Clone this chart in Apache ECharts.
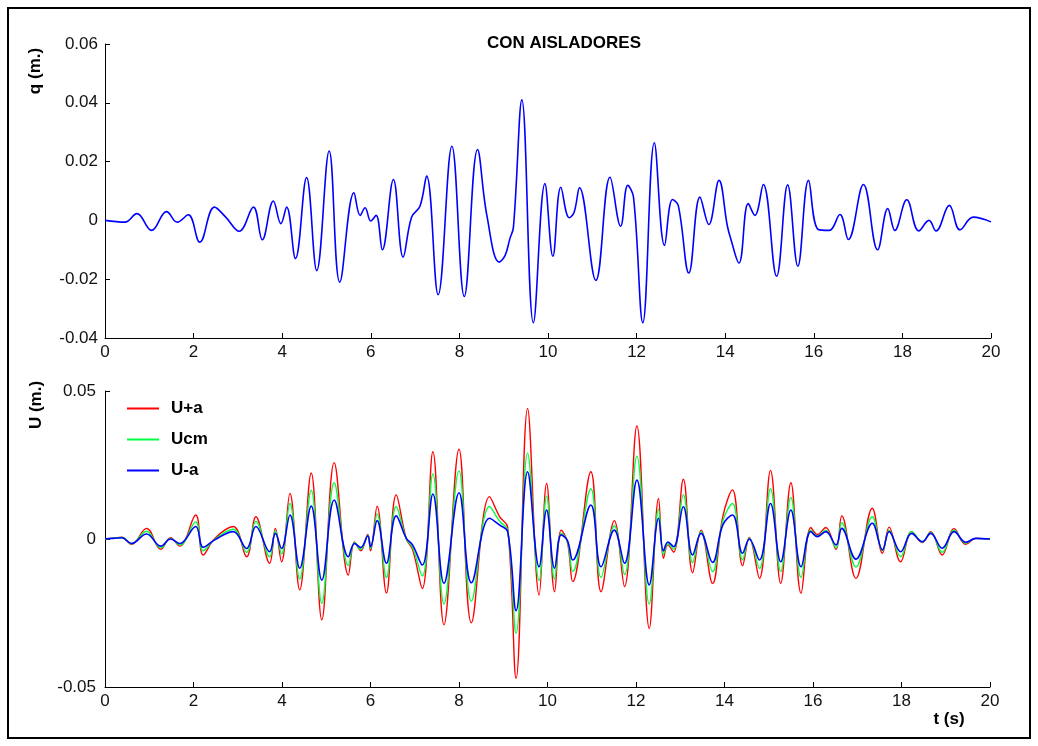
<!DOCTYPE html>
<html>
<head>
<meta charset="utf-8">
<script src="https://cdn.jsdelivr.net/npm/echarts@6/dist/echarts.min.js"></script>
<style>html,body{margin:0;padding:0;background:#fff;}#c{width:1038px;height:746px;}</style>
</head>
<body>
<div id="c"></div>
<script>
// ---- Top panel: q (m.) vs t (s) ----
const qTime = [0,0.45,0.72,1.05,1.39,1.63,1.88,2.14,2.47,2.72,3.03,3.35,3.55,3.80,3.97,4.10,4.30,4.55,4.78,5.06,5.30,5.62,5.76,5.87,6.00,6.12,6.26,6.51,6.73,6.92,7.11,7.26,7.52,7.83,8.11,8.41,8.62,8.90,9.03,9.14,9.22,9.41,9.67,9.93,10.11,10.29,10.48,10.59,10.71,11.08,11.40,11.64,11.80,11.93,12.14,12.40,12.63,12.81,12.94,13.18,13.43,13.63,13.86,14.05,14.12,14.31,14.52,14.67,14.86,15.16,15.41,15.64,15.88,16.10,16.35,16.59,16.78,17.12,17.44,17.67,17.83,18.10,18.37,18.60,18.76,19.06,19.30,19.60,20.0];
const qValue = [0,-0.0006,0.0023,-0.0034,0.0030,-0.0006,0.0019,-0.0074,0.0045,0.0012,-0.0037,0.0045,-0.0066,0.0066,-0.0011,0.0045,-0.0130,0.0146,-0.0171,0.0236,-0.0210,0.0094,0.0017,0.0043,-0.0002,0.0017,-0.0100,0.0139,-0.0125,0.0011,0.0048,0.0151,-0.0253,0.0252,-0.0259,0.0241,0.0017,-0.0142,-0.0120,-0.0062,-0.0023,0.0410,-0.0348,0.0125,-0.0122,0.0113,0.0009,0.0028,0.0111,-0.0204,0.0147,-0.0020,0.0119,0.0079,-0.0348,0.0264,-0.0085,0.0071,0.0051,-0.0179,0.0079,-0.0014,0.0136,-0.0020,-0.0060,-0.0145,0.0057,0.0017,0.0122,-0.0190,0.0121,-0.0156,0.0136,-0.0031,-0.0034,0.0020,-0.0065,0.0122,-0.0100,0.0040,-0.0034,0.0070,-0.0036,0.0000,-0.0036,0.0051,-0.0032,0.0011,-0.0005];

// ---- Bottom panel: U (m.) vs t (s) ----
const uTime   = [0,0.15,0.38,0.60,0.94,1.26,1.48,1.69,2.05,2.22,2.48,2.90,3.20,3.41,3.72,3.85,3.99,4.18,4.40,4.66,4.90,5.18,5.50,5.64,5.78,5.94,6.00,6.15,6.36,6.58,6.81,6.95,7.17,7.41,7.66,8.00,8.28,8.69,8.92,9.10,9.29,9.55,9.81,9.98,10.16,10.31,10.45,10.57,10.98,11.21,11.51,11.74,12.02,12.30,12.51,12.62,12.72,12.85,13.07,13.28,13.47,13.73,13.96,14.18,14.41,14.56,14.79,15.04,15.27,15.50,15.73,15.95,16.10,16.29,16.52,16.65,16.97,17.34,17.57,17.72,17.98,18.23,18.47,18.66,18.92,19.19,19.45,19.68,20.0];
const uPlusA  = [0,0.0002,0.0006,-0.0018,0.0036,-0.0035,0.0004,-0.0024,0.0081,-0.0054,0.0002,0.0042,-0.0060,0.0075,-0.0082,0.0036,-0.0077,0.0154,-0.0172,0.0223,-0.0273,0.0258,-0.0122,-0.0010,-0.0040,0.0015,-0.0040,0.0111,-0.0183,0.0149,0.0000,-0.0035,-0.0167,0.0295,-0.0290,0.0303,-0.0283,0.0143,0.0075,0.0040,-0.0471,0.0441,-0.0189,0.0188,-0.0178,0.0030,-0.0010,-0.0144,0.0227,-0.0178,0.0062,-0.0161,0.0382,-0.0302,0.0137,-0.0065,-0.0020,-0.0045,0.0202,-0.0114,0.0030,-0.0150,0.0075,0.0166,-0.0090,0.0005,-0.0133,0.0232,-0.0150,0.0190,-0.0183,0.0039,0.0015,0.0039,-0.0035,0.0078,-0.0133,0.0104,-0.0048,0.0040,-0.0077,0.0025,-0.0012,0.0025,-0.0054,0.0035,-0.0018,0.0002,0];
const uCm     = [0,0.0002,0.0005,-0.0016,0.0026,-0.0030,0.0002,-0.0020,0.0058,-0.0040,-0.0001,0.0033,-0.0045,0.0060,-0.0060,0.0028,-0.0050,0.0120,-0.0135,0.0165,-0.0217,0.0190,-0.0090,-0.0012,-0.0035,0.0012,-0.0032,0.0085,-0.0130,0.0110,0.0000,-0.0028,-0.0125,0.0220,-0.0220,0.0230,-0.0210,0.0110,0.0060,0.0030,-0.0319,0.0290,-0.0140,0.0145,-0.0135,0.0020,-0.0008,-0.0110,0.0170,-0.0130,0.0045,-0.0120,0.0280,-0.0220,0.0100,-0.0052,-0.0015,-0.0035,0.0150,-0.0080,0.0025,-0.0110,0.0060,0.0120,-0.0070,0.0003,-0.0100,0.0170,-0.0110,0.0140,-0.0130,0.0030,0.0010,0.0030,-0.0030,0.0055,-0.0095,0.0075,-0.0040,0.0030,-0.0060,0.0025,-0.0010,0.0022,-0.0045,0.0030,-0.0014,0.0002,0];
const uMinusA = [0,0.0002,0.0004,-0.0015,0.0017,-0.0024,0.0000,-0.0015,0.0042,-0.0028,-0.0003,0.0025,-0.0032,0.0042,-0.0043,0.0019,-0.0032,0.0081,-0.0099,0.0111,-0.0139,0.0132,-0.0060,-0.0015,-0.0029,0.0010,-0.0026,0.0062,-0.0082,0.0078,0.0002,-0.0020,-0.0088,0.0152,-0.0150,0.0156,-0.0148,0.0070,0.0047,0.0025,-0.0242,0.0227,-0.0094,0.0098,-0.0099,0.0014,-0.0005,-0.0071,0.0115,-0.0094,0.0030,-0.0082,0.0199,-0.0155,0.0070,-0.0040,-0.0010,-0.0026,0.0109,-0.0054,0.0019,-0.0079,0.0047,0.0081,-0.0048,0.0000,-0.0071,0.0120,-0.0077,0.0098,-0.0094,0.0025,0.0008,0.0025,-0.0020,0.0036,-0.0068,0.0053,-0.0037,0.0025,-0.0043,0.0019,-0.0009,0.0019,-0.0031,0.0025,-0.0011,0.0002,0];

const xTicks = [0,2,4,6,8,10,12,14,16,18,20];
const titleText = 'CON AISLADORES';
const seriesNames = ['U+a','Ucm','U-a'];

function pairs(t, v){ return t.map((x,i)=>[x, v[i]]); }
function fmt(v){ return Math.abs(v) < 1e-9 ? '0' : v.toFixed(2); }

const FONT = '"Liberation Sans", Arial, Helvetica, sans-serif';
const axisCommon = {
  axisLine: {show: true, onZero: false, lineStyle: {color: '#000', width: 1}},
  axisTick: {show: true, inside: true, length: 5, lineStyle: {color: '#000'}},
  splitLine: {show: false},
  axisLabel: {color: '#111', fontSize: 17, fontFamily: FONT}
};

const chart = echarts.init(document.getElementById('c'), null, {renderer: 'canvas'});
chart.setOption({
  backgroundColor: '#fff',
  animation: false,
  grid: [
    {left: 105, top: 44, width: 886, height: 294},
    {left: 105, top: 391, width: 885, height: 296}
  ],
  xAxis: [
    Object.assign({type: 'value', gridIndex: 0, min: 0, max: 20, interval: 2}, axisCommon,
      {axisLabel: Object.assign({}, axisCommon.axisLabel, {margin: 6})}),
    Object.assign({type: 'value', gridIndex: 1, min: 0, max: 20, interval: 2}, axisCommon,
      {axisLabel: Object.assign({}, axisCommon.axisLabel, {margin: 6})})
  ],
  yAxis: [
    Object.assign({type: 'value', gridIndex: 0, min: -0.04, max: 0.06, interval: 0.02}, axisCommon,
      {axisLabel: Object.assign({}, axisCommon.axisLabel, {margin: 7, formatter: fmt})}),
    Object.assign({type: 'value', gridIndex: 1, min: -0.05, max: 0.05, interval: 0.05}, axisCommon,
      {axisLabel: Object.assign({}, axisCommon.axisLabel, {margin: 9, formatter: fmt})})
  ],
  legend: {
    orient: 'vertical', left: 121, top: 395,
    itemWidth: 32, itemHeight: 14, itemGap: 14,
    data: seriesNames,
    itemStyle: {opacity: 0},
    textStyle: {fontFamily: FONT, fontSize: 17, fontWeight: 'bold', color: '#000', padding: [0,0,0,7]}
  },
  series: [
    {name: 'q', type: 'line', xAxisIndex: 0, yAxisIndex: 0, data: pairs(qTime, qValue),
     symbol: 'none', smooth: 0.4, lineStyle: {color: '#0000ff', width: 1.6}},
    {name: seriesNames[0], type: 'line', xAxisIndex: 1, yAxisIndex: 1, data: pairs(uTime, uPlusA),
     symbol: 'none', smooth: 0.4, color: '#ff0000', lineStyle: {color: '#ff0000', width: 1.4}},
    {name: seriesNames[1], type: 'line', xAxisIndex: 1, yAxisIndex: 1, data: pairs(uTime, uCm),
     symbol: 'none', smooth: 0.4, color: '#00ff40', lineStyle: {color: '#00ff40', width: 1.4}},
    {name: seriesNames[2], type: 'line', xAxisIndex: 1, yAxisIndex: 1, data: pairs(uTime, uMinusA),
     symbol: 'none', smooth: 0.4, color: '#0000ff', lineStyle: {color: '#0000ff', width: 1.6}}
  ],
  graphic: [
    {type: 'rect', shape: {x: 8, y: 8, width: 1022, height: 730}, style: {fill: 'none', stroke: '#000', lineWidth: 2}, silent: true},
    {type: 'text', x: 564, y: 43, style: {text: titleText, font: 'bold 17px ' + FONT, fill: '#000', textAlign: 'center', textVerticalAlign: 'middle'}},
    {type: 'text', x: 35, y: 71, rotation: Math.PI/2, style: {text: 'q (m.)', font: 'bold 17px ' + FONT, fill: '#000', textAlign: 'center', textVerticalAlign: 'middle'}},
    {type: 'text', x: 36, y: 405, rotation: Math.PI/2, style: {text: 'U (m.)', font: 'bold 17px ' + FONT, fill: '#000', textAlign: 'center', textVerticalAlign: 'middle'}},
    {type: 'text', x: 949, y: 719, style: {text: 't (s)', font: 'bold 17px ' + FONT, fill: '#000', textAlign: 'center', textVerticalAlign: 'middle'}}
  ]
});
</script>
</body>
</html>
